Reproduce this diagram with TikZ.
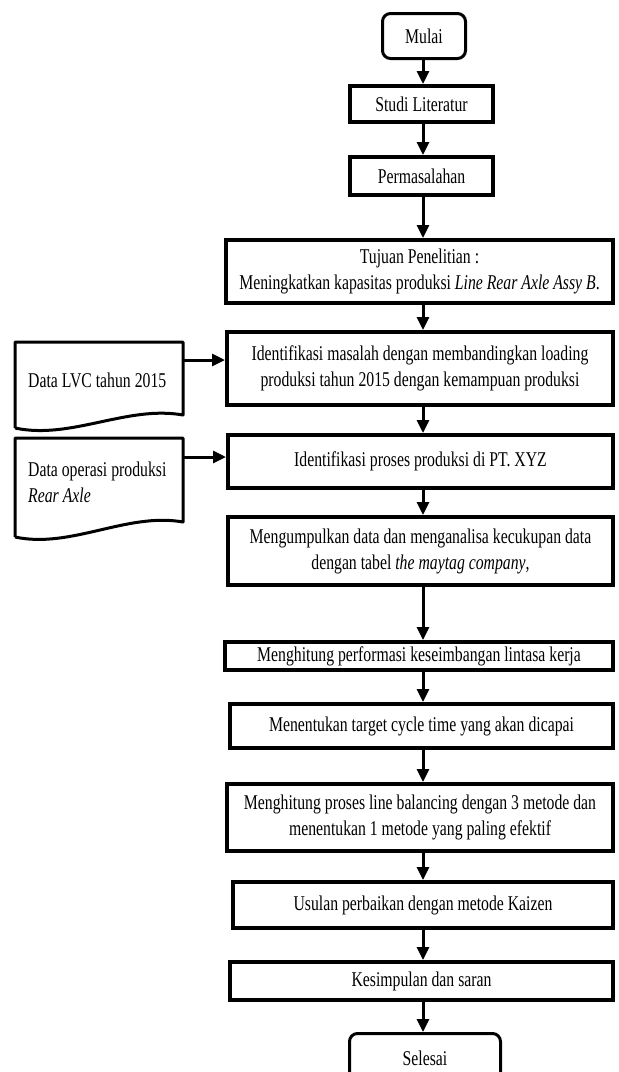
\documentclass[tikz,border=0pt]{standalone}
\usepackage{fontspec}
\setmainfont{Liberation Serif}[FakeStretch=0.75]
\usetikzlibrary{arrows.meta,calc}
\begin{document}
\begin{tikzpicture}[x=1pt,y=-1pt,
  every node/.style={font=\fontsize{21}{26}\selectfont, inner sep=0pt},
  procbox/.style={draw, line width=4pt, align=center},
  termbox/.style={draw, line width=3pt, rounded corners=8pt, align=center},
  arr/.style={line width=3pt, -{Triangle[width=12pt,length=13pt]}},
  docline/.style={line width=3pt, line join=round}]
\useasboundingbox (0,0) rectangle (619,1072);
\fill[white] (0,0) rectangle (619,1072);
\coordinate (ax) at (423,0);
% main flow
\node[termbox, minimum width=83pt, minimum height=45pt] (mulai) at (424,36) {Mulai};
\node[procbox, minimum width=143pt, minimum height=36pt] (studi) at (421.5,104) {Studi Literatur};
\node[procbox, minimum width=143pt, minimum height=38pt] (masalah) at (421.5,176) {Permasalahan};
\node[procbox, minimum width=387pt, minimum height=63pt] (tujuan) at (419.5,271.5) {Tujuan Penelitian :\\ Meningkatkan kapasitas produksi \textit{Line Rear Axle Assy B}.};
\node[procbox, minimum width=386pt, minimum height=73pt] (idm) at (420,368.5) {Identifikasi masalah dengan membandingkan loading\\ produksi tahun 2015 dengan kemampuan produksi};
\node[procbox, minimum width=385pt, minimum height=53pt] (idp) at (420.5,461.5) {Identifikasi proses produksi di PT. XYZ};
\node[procbox, minimum width=385pt, minimum height=68pt] (kumpul) at (420.5,551) {Mengumpulkan data dan menganalisa kecukupan data\\ dengan tabel \textit{the maytag company},};
\node[procbox, minimum width=388pt, minimum height=28pt] (perf) at (419,656) {Menghitung performasi keseimbangan lintasa kerja};
\node[procbox, minimum width=383pt, minimum height=44pt] (target) at (421.5,726) {Menentukan target cycle time yang akan dicapai};
\node[procbox, minimum width=386pt, minimum height=67pt] (lb) at (420,817.5) {Menghitung proses line balancing dengan 3 metode dan\\ menentukan 1 metode yang paling efektif};
\node[procbox, minimum width=380pt, minimum height=46pt] (kaizen) at (423,905) {Usulan perbaikan dengan metode Kaizen};
\node[procbox, minimum width=383pt, minimum height=38pt] (kesim) at (421.5,981) {Kesimpulan dan saran};
\node[termbox, minimum width=151pt, minimum height=49pt] (selesai) at (425,1058) {Selesai};
% arrows
\foreach \a/\b in {mulai/studi, studi/masalah, masalah/tujuan, tujuan/idm, idm/idp, idp/kumpul, kumpul/perf, perf/target, target/lb, lb/kaizen, kaizen/kesim, kesim/selesai}
  \draw[arr] (\a.south -| ax) -- (\b.north -| ax);
% documents
\node[align=left, anchor=west] (d1) at (28,380) {Data LVC tahun 2015};
\draw[docline] (15,428) -- (15,342) -- (183,342) -- (183,415) .. controls (127,405) and (71,440) .. (15,428);
\node[align=left, anchor=west] (d2) at (28,482) {Data operasi produksi\\ \textit{Rear Axle}};
\draw[docline] (15,537) -- (15,438) -- (183,438) -- (183,522) .. controls (127,512) and (71,549) .. (15,537);
\coordinate (d1e) at (183,360);
\coordinate (d2e) at (183,457);
\draw[arr] (d1e) -- (d1e -| idm.west);
\draw[arr] (d2e) -- (d2e -| idp.west);
\end{tikzpicture}
\end{document}
